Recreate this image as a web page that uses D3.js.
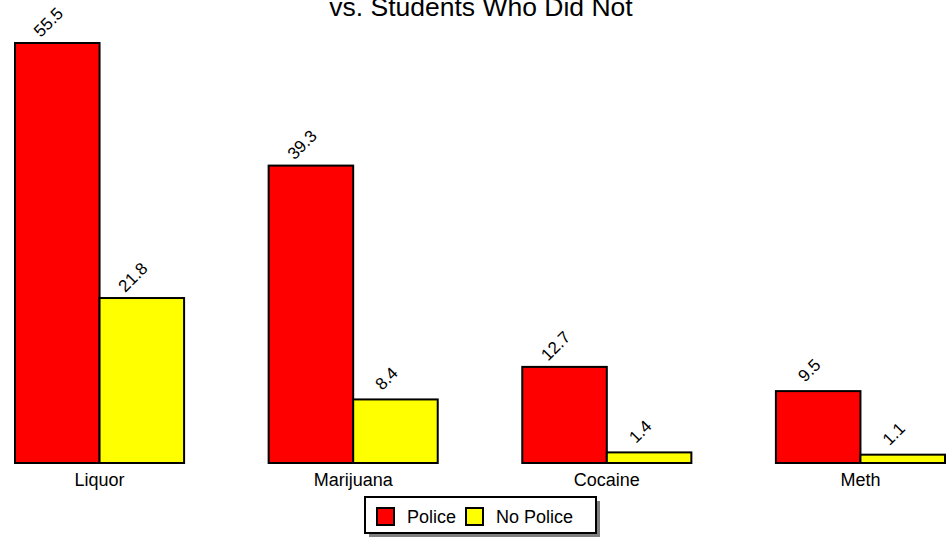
<!DOCTYPE html>
<html>
<head>
<meta charset="utf-8">
<script src="https://cdn.jsdelivr.net/npm/d3@7"></script>
<style>
  html, body { margin: 0; padding: 0; background: #fff; }
  svg { display: block; font-family: "Liberation Sans", Arial, sans-serif; }
</style>
</head>
<body>
<svg id="chart" width="949" height="539"></svg>
<script>
const titleLines = ["vs. Students Who Did Not"];
const categories = ["Liquor", "Marijuana", "Cocaine", "Meth"];
const seriesNames = ["Police", "No Police"];
const seriesColors = ["#ff0000", "#ffff00"];
const policeValues = [55.5, 39.3, 12.7, 9.5];
const noPoliceValues = [21.8, 8.4, 1.4, 1.1];
const seriesValues = [policeValues, noPoliceValues];

const svg = d3.select("#chart");
const W = 949, H = 539;

const x0 = d3.scaleBand().domain(categories).range([15, 945]).paddingInner(1/3).paddingOuter(0);
const x1 = d3.scaleBand().domain(seriesNames).range([0, x0.bandwidth()]).padding(0);
const y = d3.scaleLinear().domain([0, 55.5]).range([463, 43]);
const color = d3.scaleOrdinal().domain(seriesNames).range(seriesColors);

// title
svg.append("text")
  .attr("x", 481).attr("y", 16)
  .attr("text-anchor", "middle")
  .attr("font-size", 26.5)
  .attr("fill", "#000")
  .text(titleLines[0]);

const data = [];
categories.forEach((c, i) => {
  seriesNames.forEach((s, j) => data.push({cat: c, ser: s, val: seriesValues[j][i]}));
});

const g = svg.append("g");
g.selectAll("rect.bar").data(data).join("rect")
  .attr("class", "bar")
  .attr("x", d => x0(d.cat) + x1(d.ser))
  .attr("y", d => y(d.val))
  .attr("width", x1.bandwidth())
  .attr("height", d => y(0) - y(d.val))
  .attr("fill", d => color(d.ser))
  .attr("stroke", "#000")
  .attr("stroke-width", 2);

g.selectAll("text.val").data(data).join("text")
  .attr("class", "val")
  .attr("transform", d => {
    const cx = x0(d.cat) + x1(d.ser) + x1.bandwidth() / 2 - 9;
    const cy = y(d.val) - 21;
    return `translate(${cx},${cy}) rotate(-45)`;
  })
  .attr("text-anchor", "middle")
  .attr("dy", "0.35em")
  .attr("font-size", 17)
  .attr("fill", "#000")
  .text(d => d.val.toFixed(1));

// x axis labels
const xAxis = d3.axisBottom(x0).tickSize(0).tickPadding(0);
const ax = svg.append("g").attr("transform", `translate(0, 463)`).call(xAxis);
ax.select(".domain").remove();
ax.selectAll("text")
  .attr("font-size", 18)
  .attr("font-family", "Liberation Sans, Arial, sans-serif")
  .attr("fill", "#000")
  .attr("dy", null)
  .attr("y", 23);

// legend
const lg = svg.append("g");
const lx = 365, ly = 497, lw = 231, lh = 36;
lg.append("rect").attr("x", lx + 4).attr("y", ly + 4).attr("width", lw).attr("height", lh)
  .attr("fill", "#808080");
lg.append("rect").attr("x", lx).attr("y", ly).attr("width", lw).attr("height", lh)
  .attr("fill", "#fff").attr("stroke", "#000").attr("stroke-width", 2);
const legendX = [377, 466];
const items = lg.selectAll("g.item").data(seriesNames).join("g")
  .attr("class", "item")
  .attr("transform", (d, i) => `translate(${legendX[i]}, 508)`);
items.append("rect").attr("width", 17).attr("height", 17)
  .attr("fill", d => color(d)).attr("stroke", "#000").attr("stroke-width", 2);
items.append("text").attr("x", 30).attr("y", 15)
  .attr("font-size", 18).attr("fill", "#000").text(d => d);
</script>
</body>
</html>
